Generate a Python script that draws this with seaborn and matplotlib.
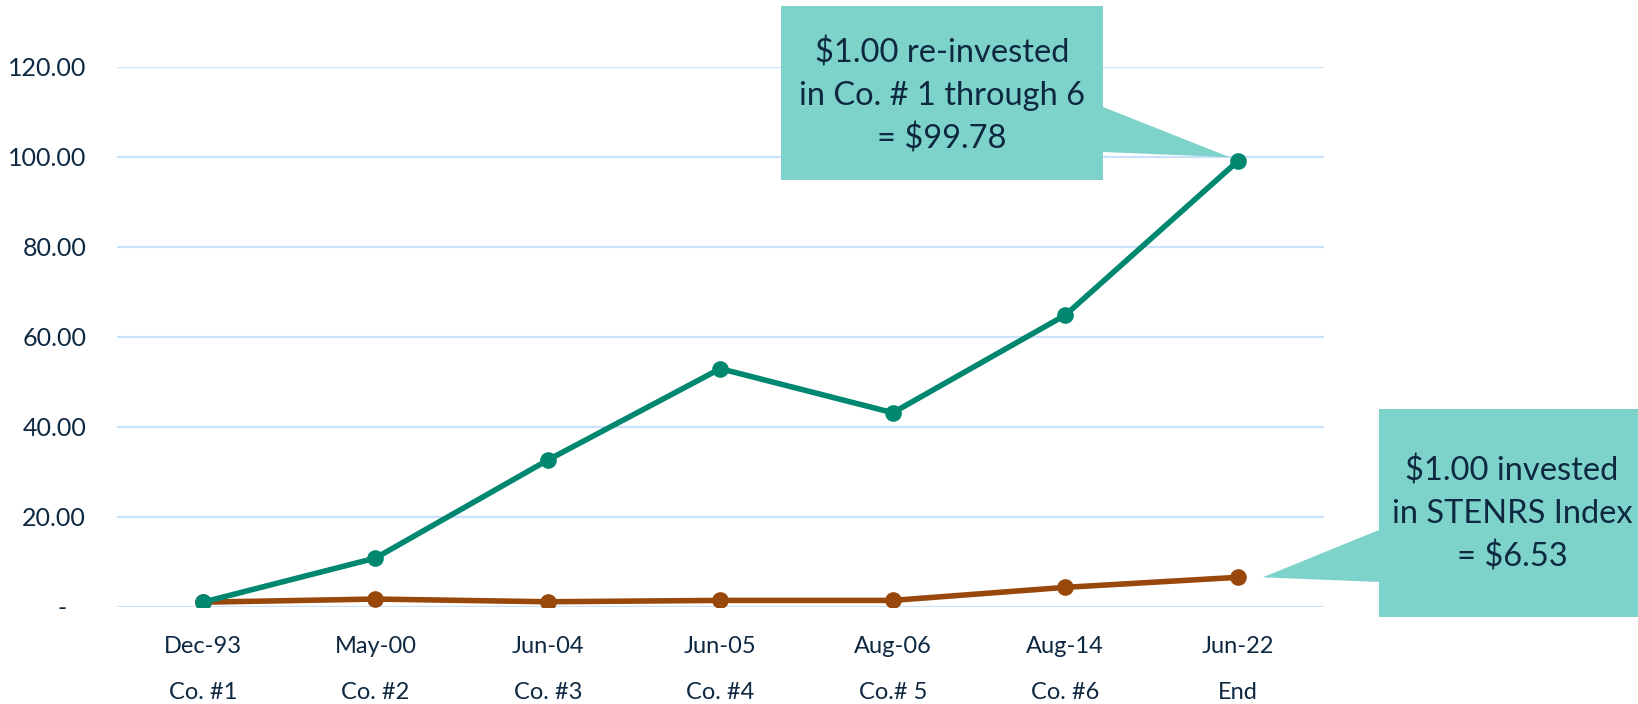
import numpy as np
import pandas as pd
import seaborn as sns
import matplotlib.pyplot as plt
from matplotlib.patches import Polygon
from matplotlib.transforms import IdentityTransform, blended_transform_factory

# values
dates = ['Dec-93', 'May-00', 'Jun-04', 'Jun-05', 'Aug-06', 'Aug-14', 'Jun-22']
companies = ['Co. #1', 'Co. #2', 'Co. #3', 'Co. #4', 'Co.# 5', 'Co. #6', 'End']
reinvested = [1.0, 10.8, 32.6, 52.9, 43.1, 64.8, 99.0]
index_fund = [1.0, 1.7, 1.1, 1.4, 1.4, 4.3, 6.53]
y_ticks = [0, 20, 40, 60, 80, 100, 120]

green = '#00876F'
brown = '#99480C'
callout = '#7DD3C9'
navy = '#0E2841'
grid = '#C9E2FA'

sns.set_style('white')
plt.rcParams['font.family'] = ['Lato', 'DejaVu Sans']

df = pd.DataFrame({
    'pos': list(range(len(dates))) * 2,
    'value': reinvested + index_fund,
    'series': ['reinvested'] * len(dates) + ['index'] * len(dates),
})

W, H = 1638, 704
fig = plt.figure(figsize=(W / 100, H / 100), dpi=100)
ax = fig.add_axes([116.7 / W, 1 - 606.7 / H, (1324 - 116.7) / W, (606.7 - 66.7) / H])

sns.lineplot(data=df, x='pos', y='value', hue='series',
             palette={'reinvested': green, 'index': brown},
             hue_order=['index', 'reinvested'],
             marker='o', markersize=12, markeredgewidth=0,
             linewidth=4, legend=False, ax=ax, zorder=3)

ax.set_xlim(-0.5, len(dates) - 0.5)
ax.set_ylim(0, 120)
ax.set_yticks(y_ticks)
ax.set_yticklabels(['-   ' if v == 0 else f'{v:.2f}' for v in y_ticks])
ax.set_xticks(range(len(dates)))
ax.set_xticklabels(dates)
ax.tick_params(axis='x', length=0, pad=21, labelsize=17, labelcolor=navy)
ax.tick_params(axis='y', length=0, pad=22, labelsize=18, labelcolor=navy)
ax.set_xlabel('')
ax.set_ylabel('')
for s in ax.spines.values():
    s.set_visible(False)
ax.grid(axis='y', color=grid, linewidth=1.6)
ax.set_axisbelow(True)

# second row of category labels
trans = blended_transform_factory(ax.transData, ax.transAxes)
for i, c in enumerate(companies):
    ax.text(i, -0.158, c, transform=trans, ha='center', va='center',
            fontsize=17, color=navy)

# callout shapes (pixel coords, y measured from top)
def px(x, y_top):
    return (x, H - y_top)

tip1 = ax.transData.transform((len(dates) - 1, reinvested[-1]))
tip1 = (tip1[0] - 8, tip1[1] + 4)
poly1 = [px(781, 6), px(1103, 6), px(1103, 107), tip1, px(1103, 152), px(1103, 180), px(781, 180)]
fig.patches.append(Polygon(poly1, closed=True, facecolor=callout, edgecolor='none',
                           transform=IdentityTransform(), figure=fig, zorder=1))

tip2 = ax.transData.transform((len(dates) - 1, index_fund[-1]))
tip2 = (tip2[0] + 25, tip2[1])
poly2 = [px(1379, 409), px(W, 409), px(W, 617), px(1379, 617), px(1379, 582), tip2, px(1379, 530)]
fig.patches.append(Polygon(poly2, closed=True, facecolor=callout, edgecolor='none',
                           transform=IdentityTransform(), figure=fig, zorder=1))

fig.text(942 / W, 1 - 96 / H, '$1.00 re-invested\nin Co. # 1 through 6\n= $99.78',
         ha='center', va='center', fontsize=23.5, color=navy, linespacing=1.5)
fig.text(1512 / W, 1 - 514 / H, '$1.00 invested\nin STENRS Index\n= $6.53',
         ha='center', va='center', fontsize=23.5, color=navy, linespacing=1.5)

fig.savefig('out.png', dpi=100)
